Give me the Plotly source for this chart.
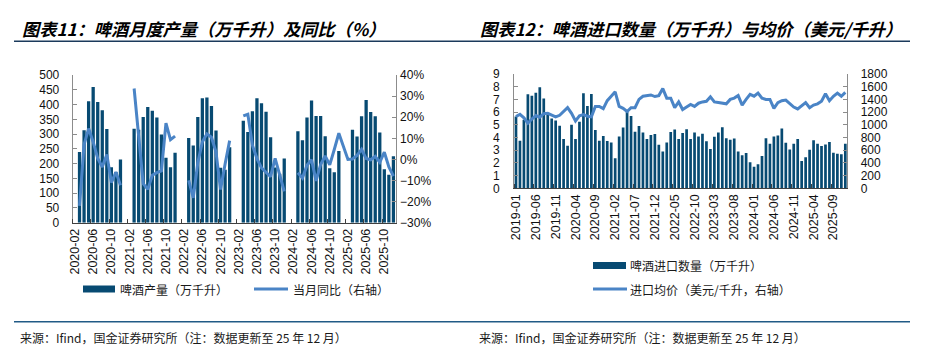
import pandas as pd
import plotly.graph_objects as go

# ---------------- data: left chart (beer monthly production & YoY) ----------------
prod_months = [p.strftime("%Y-%m") for p in pd.period_range("2020-02", "2025-12", freq="M")]
production = [
    None,
    239, 313, 411, 459, 409, 381, 317, 188, 172, 214,              # 2020-03..12
    None, None, 318, 315, 358, 392, 379, 356, 299, 220, 188, 237,  # 2021
    None, None, 287, 261, 358, 421, 424, 395, 312, 186, 179, 255,  # 2022
    None, None, 345, 307, 377, 421, 404, 376, 289, 187, 166, 217,  # 2023
    None, None, 310, 279, 356, 414, 361, 361, 293, 184, 171, 243,  # 2024
    None, None, 315, 292, 360, 415, 375, 360, 305, 181, 162, 225,  # 2025
]
yoy = [
    None,
    -22.0, 7.0, 14.6, 8.3, 0.5, -3.6, 2.3, -11.0, -6.0, -12.2,
    None, None, 33.6, 10.0, -11.5, -14.2, -7.5, -6.3, -5.5, 17.2, 9.3, 11.0,
    None, None, -9.9, -18.2, -1.6, 8.3, 12.1, 10.5, 3.5, -14.3, -2.2, 8.9,
    None, None, 20.6, 21.4, 6.7, 0.4, -4.0, -6.3, -8.2, 0.5, -7.1, -15.2,
    None, None, -6.3, -8.8, -2.8, -0.2, -10.2, -2.4, 1.6, -2.6, 4.7, 12.4,
    None, 0.0, 0.2, 1.9, 4.8, 0.4, -0.2, 1.4, -1.4, 3.4, -3.6, -7.9,
]
yoy_bridged_months = ["2025-01"]          # the line is drawn straight across this empty month
prod_label_months = prod_months[::4]       # 2020-02, 2020-06, ...

# ---------------- data: right chart (beer imports volume & average price) ----------------
imp_months = [p.strftime("%Y-%m") for p in pd.period_range("2019-01", "2025-12", freq="M")]
import_volume = [
    5.65, 3.74, 5.40, 7.40, 7.28, 7.53, 7.95, 7.08, 5.85, 5.50, 5.33, 4.93,   # 2019
    3.88, 3.36, 5.00, 3.88, 5.25, 7.48, 6.48, 7.43, 4.60, 3.75, 4.12, 3.73,   # 2020
    3.60, 2.36, 4.07, 4.78, 6.04, 5.70, 4.45, 4.90, 4.40, 3.88, 4.20, 4.28,   # 2021
    3.43, 2.89, 3.60, 4.43, 4.63, 3.88, 4.36, 4.65, 3.88, 4.40, 4.08, 4.30,   # 2022
    3.70, 3.10, 4.05, 4.40, 4.80, 3.95, 3.83, 3.93, 2.90, 2.60, 2.78, 2.05,   # 2023
    1.70, 1.90, 2.55, 3.95, 3.50, 4.08, 4.15, 4.70, 3.58, 3.05, 3.50, 3.88,   # 2024
    2.15, 2.45, 3.03, 3.78, 3.50, 3.33, 3.45, 3.65, 2.80, 2.73, 2.68, 3.50,   # 2025
]
import_price = [
    1130, 1165, 1110, 1025, 1090, 1145, 1120, 1175, 1180, 1150, 1125, 1150,
    1215, 1270, 1180, 1060, 1140, 1160, 1135, 1125, 1290, 1290, 1255, 1380,
    1450, 1520, 1290, 1260, 1210, 1270, 1270, 1400, 1450, 1465, 1470, 1445,
    1460, 1570, 1420, 1420, 1270, 1360, 1240, 1280, 1320, 1290, 1340, 1360,
    1370, 1440, 1360, 1350, 1340, 1330, 1400, 1420, 1460, 1310, 1400, 1480,
    1450, 1500, 1420, 1400, 1400, 1260, 1350, 1380, 1390, 1340, 1280, 1250,
    1300, 1350, 1270, 1310, 1330, 1370, 1490, 1380, 1450, 1500, 1450, 1510,
]
imp_label_months = imp_months[::5]         # 2019-01, 2019-06, ...

# ---------------- texts ----------------
title_left = "图表11：啤酒月度产量（万千升）及同比（%）"
title_right = "图表12：啤酒进口数量（万千升）与均价（美元/千升）"
legend_left = ["啤酒产量（万千升）", "当月同比（右轴）"]
legend_right = ["啤酒进口数量（万千升）", "进口均价（美元/千升，右轴）"]
source_text = "来源：Ifind，国金证券研究所（注：数据更新至 25 年 12 月）"

# ---------------- style ----------------
W, H = 931, 355
BAR = "#074A72"
LINE = "#4A84C6"
NAVY = "#1B3A5C"
RULE = "#215A86"
NUM_FONT = "Liberation Sans, Arial, sans-serif"
CJK_FONT = "Noto Sans CJK SC, sans-serif"


def px(x):
    return x / W


def py(y):
    return 1 - y / H


prod_idx = list(range(len(prod_months)))
imp_idx = list(range(len(imp_months)))

line_x, line_y = [], []
for i, (m, v) in enumerate(zip(prod_months, yoy)):
    if v is None and m in yoy_bridged_months:
        continue
    line_x.append(i)
    line_y.append(v)

fig = go.Figure()
fig.add_trace(go.Bar(x=prod_idx, y=production, marker=dict(color=BAR, line=dict(width=0)),
                     width=0.72, xaxis="x", yaxis="y", name=legend_left[0]))
fig.add_trace(go.Scatter(x=line_x, y=line_y, mode="lines", connectgaps=False,
                         line=dict(color=LINE, width=3), xaxis="x", yaxis="y2", name=legend_left[1]))
fig.add_trace(go.Bar(x=imp_idx, y=import_volume, marker=dict(color=BAR, line=dict(width=0)),
                     width=0.68, xaxis="x2", yaxis="y3", name=legend_right[0]))
fig.add_trace(go.Scatter(x=imp_idx, y=import_price, mode="lines",
                         line=dict(color=LINE, width=3), xaxis="x2", yaxis="y4", name=legend_right[1]))

tickfont = dict(family=NUM_FONT, size=12, color="#111111")
xtickfont = dict(family=NUM_FONT, size=12.5, color="#111111")

common_x = dict(showgrid=False, zeroline=False, showline=True, linecolor="#404040", linewidth=1,
                ticks="", tickangle=-90, tickfont=xtickfont, automargin=False, tickmode="array")
common_y = dict(showgrid=False, zeroline=False, showline=True, linecolor="#8c8c8c", linewidth=1,
                ticks="inside", ticklen=4, tickcolor="#8c8c8c", tickfont=tickfont, automargin=False)

L_X0, L_X1, L_YT, L_YB = 72.7, 395.7, 75.0, 222.7
R_X0, R_X1, R_YT, R_YB = 514.0, 847.3, 74.0, 188.3

fig.update_layout(
    width=W, height=H, margin=dict(l=0, r=0, t=0, b=0),
    paper_bgcolor="white", plot_bgcolor="white", showlegend=False,
    xaxis=dict(common_x, domain=[px(L_X0), px(L_X1)], anchor="y", range=[-0.5, len(prod_months) - 0.5],
               tickvals=[prod_months.index(m) for m in prod_label_months], ticktext=prod_label_months,
               minor=dict(ticks="inside", tick0=-0.5, dtick=4, ticklen=4, tickcolor="#404040", showgrid=False)),
    yaxis=dict(common_y, domain=[py(L_YB), py(L_YT)], anchor="x", range=[0, 500], dtick=50,
               ticklabelstandoff=10),
    yaxis2=dict(common_y, overlaying="y", side="right", anchor="x", range=[-30, 40], dtick=10,
                ticksuffix="%", ticklabelstandoff=1),
    xaxis2=dict(common_x, domain=[px(R_X0), px(R_X1)], anchor="y3", range=[-0.5, len(imp_months) - 0.5],
                tickvals=[imp_months.index(m) for m in imp_label_months], ticktext=imp_label_months,
                minor=dict(ticks="inside", tick0=-0.5, dtick=5, ticklen=4, tickcolor="#404040", showgrid=False)),
    yaxis3=dict(common_y, domain=[py(R_YB), py(R_YT)], anchor="x2", range=[0, 9], dtick=1,
                ticklabelstandoff=11),
    yaxis4=dict(common_y, overlaying="y3", side="right", anchor="x2", range=[0, 1800], dtick=200,
                ticklabelstandoff=10),
)

shapes = [
    # rule under titles
    dict(type="line", xref="paper", yref="paper", x0=px(14), x1=px(910), y0=py(41.3), y1=py(41.3),
         line=dict(color=NAVY, width=1.6)),
    # rule above source
    dict(type="line", xref="paper", yref="paper", x0=px(14), x1=px(910), y0=py(321.7), y1=py(321.7),
         line=dict(color=RULE, width=1.6)),
    # left legend swatches
    dict(type="rect", xref="paper", yref="paper", x0=px(83), x1=px(115), y0=py(292.5), y1=py(285.5),
         fillcolor=BAR, line=dict(width=0)),
    dict(type="line", xref="paper", yref="paper", x0=px(254), x1=px(288), y0=py(289), y1=py(289),
         line=dict(color=LINE, width=3)),
    # right legend swatches
    dict(type="rect", xref="paper", yref="paper", x0=px(593), x1=px(626), y0=py(269), y1=py(262),
         fillcolor=BAR, line=dict(width=0)),
    dict(type="line", xref="paper", yref="paper", x0=px(593), x1=px(627), y0=py(289), y1=py(289),
         line=dict(color=LINE, width=3)),
]

title_font = dict(family=CJK_FONT, size=17.2, color="#000000", weight="bold", style="italic")
small_font = dict(family=CJK_FONT, size=12, color="#1a1a1a")


def ann(text, x, y, font):
    return dict(text=text, x=px(x), y=py(y), xref="paper", yref="paper", xanchor="left",
                yanchor="middle", showarrow=False, font=font)


annotations = [
    ann(title_left, 20, 28.3, title_font),
    ann(title_right, 478, 28.3, title_font),
    ann(legend_left[0], 118, 289, small_font),
    ann(legend_left[1], 291, 289, small_font),
    ann(legend_right[0], 628, 265.5, small_font),
    ann(legend_right[1], 628, 289, small_font),
    ann(source_text, 18, 337.3, small_font),
    ann(source_text, 477, 337.3, small_font),
]

fig.update_layout(shapes=shapes, annotations=annotations)
fig.write_html(
    "out.html",
    config={"displayModeBar": False, "staticPlot": True},
    post_script="document.body.style.margin='0';document.body.style.padding='0';"
                "document.body.style.overflow='hidden';",
)
